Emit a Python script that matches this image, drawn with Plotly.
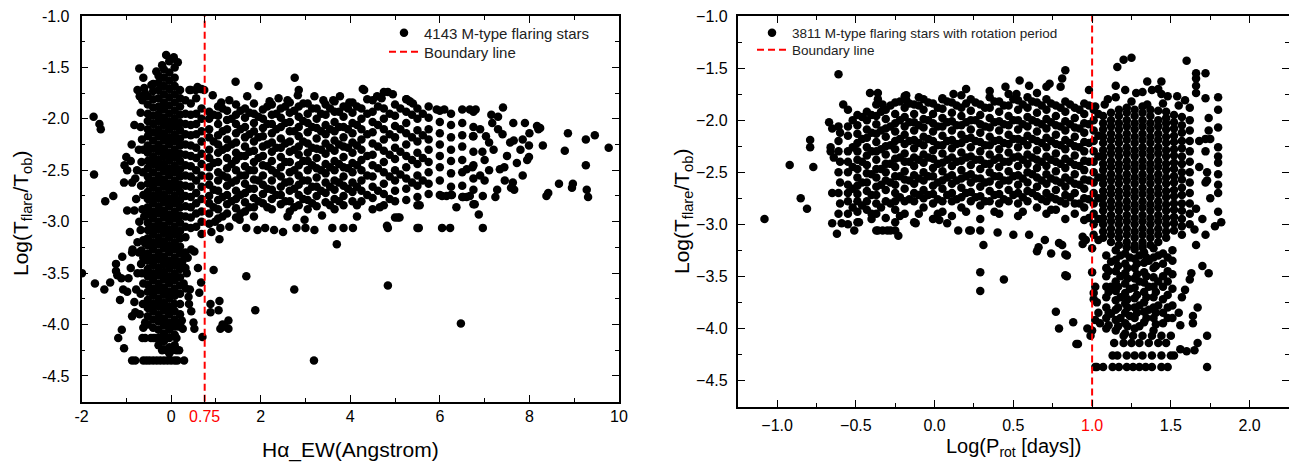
import plotly.graph_objects as go

# ---------------- shared ----------------
Y_RANGE = [-4.75, -1.0]
Y_TICKS = [-4.5, -4.0, -3.5, -3.0, -2.5, -2.0, -1.5, -1.0]
Y_MINOR = [-4.25, -3.75, -3.25, -2.75, -2.25, -1.75, -1.25]

# ---------------- left panel : H-alpha EW ----------------
L_X_RANGE = [-2, 10]
L_BOUNDARY = 0.75
L_X_TICKS = [-2, 0, 0.75, 2, 4, 6, 8, 10]
L_X_TICKTEXT = ["-2", "0", "<span style='color:#ff0000'>0.75</span>", "2", "4", "6", "8", "10"]
L_X_MINOR = [-1, 1, 3, 5, 7, 9]
L_Y_TICKTEXT = ["-4.5", "-4.0", "-3.5", "-3.0", "-2.5", "-2.0", "-1.5", "-1.0"]

left_core = {
    -0.52: [-1.78, -1.86, -1.95, -2.02, -2.1, -2.17, -2.26, -2.33, -2.41, -2.48, -2.56, -2.63, -2.71, -2.78, -2.86, -2.93, -3.01, -3.08, -3.16, -3.23, -3.31, -3.38, -3.46, -3.53, -3.61, -3.68, -3.76, -3.84, -3.92, -4.0],
    -0.4: [-1.66, -1.73, -1.81, -1.89, -1.97, -2.05, -2.13, -2.21, -2.29, -2.37, -2.44, -2.52, -2.6, -2.67, -2.75, -2.82, -2.9, -2.97, -3.05, -3.12, -3.2, -3.27, -3.35, -3.42, -3.5, -3.57, -3.65, -3.72, -3.8, -3.87, -3.95, -4.03, -4.13],
    -0.28: [-1.58, -1.65, -1.72, -1.8, -1.88, -1.95, -2.02, -2.1, -2.17, -2.25, -2.32, -2.4, -2.47, -2.55, -2.62, -2.7, -2.77, -2.85, -2.92, -3.0, -3.07, -3.15, -3.22, -3.3, -3.37, -3.45, -3.52, -3.6, -3.67, -3.75, -3.82, -3.9, -3.97, -4.05, -4.13, -4.2],
    -0.16: [-1.52, -1.6, -1.68, -1.76, -1.84, -1.91, -1.99, -2.06, -2.14, -2.21, -2.29, -2.36, -2.44, -2.51, -2.59, -2.66, -2.74, -2.81, -2.89, -2.96, -3.04, -3.11, -3.19, -3.26, -3.34, -3.41, -3.49, -3.56, -3.64, -3.71, -3.79, -3.86, -3.94, -4.01, -4.09, -4.16, -4.24],
    -0.04: [-1.44, -1.55, -1.63, -1.71, -1.79, -1.87, -1.95, -2.03, -2.1, -2.18, -2.25, -2.33, -2.4, -2.48, -2.55, -2.63, -2.7, -2.78, -2.85, -2.93, -3.0, -3.08, -3.15, -3.23, -3.3, -3.38, -3.45, -3.53, -3.6, -3.68, -3.75, -3.83, -3.9, -3.98, -4.05, -4.13, -4.22, -4.28],
    0.08: [-1.5, -1.6, -1.68, -1.76, -1.84, -1.92, -2.0, -2.07, -2.15, -2.22, -2.3, -2.37, -2.45, -2.52, -2.6, -2.67, -2.75, -2.82, -2.9, -2.97, -3.05, -3.12, -3.2, -3.27, -3.35, -3.42, -3.5, -3.57, -3.65, -3.72, -3.8, -3.87, -3.95, -4.02, -4.1, -4.2],
    0.2: [-1.72, -1.8, -1.88, -1.96, -2.04, -2.11, -2.19, -2.26, -2.34, -2.41, -2.49, -2.56, -2.64, -2.71, -2.79, -2.86, -2.94, -3.01, -3.09, -3.16, -3.24, -3.31, -3.39, -3.46, -3.54, -3.62, -3.7, -3.8, -3.9, -4.0],
    0.32: [-1.82, -1.95, -2.05, -2.15, -2.25, -2.35, -2.45, -2.55, -2.65, -2.75, -2.85, -2.95, -3.05, -3.15, -3.3, -3.45],
    0.44: [-1.72, -1.85, -1.96, -2.06, -2.16, -2.26, -2.36, -2.46, -2.56, -2.66, -2.76, -2.86, -2.96, -3.06],
    0.56: [-1.8, -1.95, -2.05, -2.15, -2.28, -2.38, -2.5, -2.6, -2.72, -2.82, -2.92, -3.05],
    0.68: [-1.71, -1.9, -2.0, -2.12, -2.22, -2.34, -2.44, -2.55, -2.66, -2.78, -2.9, -3.0, -3.12],
}

left_band = {
    0.85: [-1.93, -2.0, -2.1, -2.18, -2.3, -2.38, -2.47, -2.56, -2.64, -2.75, -2.82, -2.92, -3.02],
    1.05: [-1.88, -1.97, -2.05, -2.16, -2.25, -2.33, -2.42, -2.52, -2.6, -2.7, -2.79, -2.88, -2.97],
    1.25: [-1.92, -2.01, -2.1, -2.2, -2.28, -2.38, -2.48, -2.57, -2.65, -2.74, -2.83, -2.92],
    1.45: [-1.86, -1.96, -2.05, -2.14, -2.23, -2.33, -2.4, -2.5, -2.6, -2.7, -2.78, -2.87, -2.96],
    1.65: [-1.9, -1.99, -2.08, -2.18, -2.27, -2.36, -2.46, -2.55, -2.63, -2.72, -2.81, -2.9],
    1.85: [-1.85, -1.95, -2.04, -2.12, -2.22, -2.31, -2.42, -2.5, -2.59, -2.68, -2.77, -2.86, -2.95],
    2.05: [-1.91, -2.0, -2.09, -2.17, -2.27, -2.36, -2.45, -2.55, -2.64, -2.73, -2.82],
    2.25: [-1.86, -1.96, -2.05, -2.14, -2.23, -2.32, -2.41, -2.5, -2.6, -2.69, -2.78, -2.88],
    2.45: [-1.9, -1.99, -2.08, -2.19, -2.28, -2.37, -2.47, -2.56, -2.66, -2.74, -2.83],
    2.65: [-1.84, -1.94, -2.03, -2.12, -2.22, -2.32, -2.42, -2.52, -2.61, -2.7, -2.8, -2.9],
    2.85: [-1.88, -1.98, -2.08, -2.17, -2.27, -2.35, -2.45, -2.55, -2.64, -2.74, -2.84],
    3.05: [-1.85, -1.95, -2.04, -2.13, -2.24, -2.33, -2.41, -2.5, -2.6, -2.7, -2.79, -2.88],
    3.25: [-1.9, -2.0, -2.09, -2.19, -2.29, -2.38, -2.48, -2.57, -2.66, -2.75, -2.85],
    3.45: [-1.86, -1.96, -2.06, -2.15, -2.24, -2.34, -2.44, -2.53, -2.62, -2.72, -2.81],
    3.65: [-1.83, -1.93, -2.03, -2.12, -2.21, -2.31, -2.41, -2.5, -2.6, -2.69, -2.78, -2.88],
    3.85: [-1.88, -1.98, -2.08, -2.18, -2.27, -2.37, -2.47, -2.56, -2.65, -2.75, -2.84],
    4.05: [-1.84, -1.94, -2.04, -2.14, -2.23, -2.33, -2.43, -2.52, -2.62, -2.71, -2.8],
    4.25: [-1.9, -2.0, -2.1, -2.2, -2.3, -2.4, -2.5, -2.6, -2.7, -2.8],
    4.5: [-1.82, -1.93, -2.03, -2.13, -2.24, -2.35, -2.45, -2.56, -2.66, -2.77, -2.88],
    4.75: [-1.74, -1.9, -2.0, -2.1, -2.2, -2.31, -2.42, -2.52, -2.63, -2.73, -2.84],
    5.0: [-1.86, -1.97, -2.07, -2.18, -2.28, -2.39, -2.5, -2.6, -2.7, -2.8, -2.96],
    5.25: [-1.81, -1.93, -2.04, -2.14, -2.25, -2.36, -2.47, -2.58, -2.68, -2.79],
    5.5: [-1.9, -2.0, -2.11, -2.22, -2.33, -2.44, -2.55, -2.65, -2.76, -2.84],
    5.75: [-1.88, -1.99, -2.1, -2.2, -2.3, -2.42, -2.52, -2.63, -2.73],
    6.0: [-1.92, -2.03, -2.14, -2.25, -2.36, -2.47, -2.6, -2.74],
    6.25: [-1.95, -2.06, -2.18, -2.3, -2.41, -2.53, -2.66, -2.74],
    6.5: [-1.91, -2.04, -2.16, -2.27, -2.4, -2.52, -2.65, -2.76],
    6.75: [-1.93, -2.08, -2.17, -2.32, -2.45, -2.58, -2.69, -2.83],
}

left_band_fill = {
    0.95: [-1.96, -2.22, -2.43, -2.69, -2.86],
    1.15: [-1.9, -2.12, -2.3, -2.55, -2.76, -2.95],
    1.35: [-2.0, -2.25, -2.44, -2.62, -2.8],
    1.55: [-1.92, -2.1, -2.36, -2.55, -2.74, -2.92],
    1.75: [-1.94, -2.15, -2.32, -2.5, -2.68, -2.86],
    1.95: [-1.98, -2.18, -2.38, -2.6, -2.8],
    2.15: [-1.88, -2.05, -2.25, -2.46, -2.68, -2.86],
    2.35: [-1.95, -2.1, -2.28, -2.53, -2.74],
    2.55: [-1.88, -2.04, -2.24, -2.42, -2.62, -2.8],
    2.75: [-1.92, -2.12, -2.3, -2.5, -2.68, -2.86],
    2.95: [-1.85, -2.02, -2.22, -2.41, -2.6, -2.78],
    3.15: [-1.9, -2.08, -2.28, -2.45, -2.66, -2.82],
    3.35: [-1.95, -2.12, -2.3, -2.5, -2.7],
    3.55: [-1.9, -2.1, -2.28, -2.47, -2.66, -2.84],
    3.75: [-1.93, -2.08, -2.25, -2.44, -2.62, -2.8],
    3.95: [-1.9, -2.1, -2.28, -2.48, -2.68],
    4.15: [-1.88, -2.06, -2.26, -2.45, -2.66, -2.84],
    4.38: [-1.95, -2.15, -2.36, -2.55, -2.74],
    4.62: [-1.88, -2.06, -2.27, -2.48, -2.7],
    4.88: [-1.95, -2.15, -2.35, -2.56, -2.78],
    5.12: [-1.9, -2.1, -2.32, -2.54],
    5.38: [-1.96, -2.18, -2.4, -2.62],
    5.62: [-1.95, -2.16, -2.38, -2.6],
}

left_scatter = [
    (-0.11, -1.38), (0.0, -1.42), (0.06, -1.4), (-0.33, -1.54), (-0.71, -1.51), (-0.44, -1.67), (-0.6, -1.7), (0.15, -1.45), (-0.2, -1.48),
    (-0.58, -1.75), (-0.62, -1.6),
    (-1.73, -1.98), (-1.6, -2.05), (-1.57, -2.1), (-1.72, -2.54), (-1.47, -2.8), (-1.29, -2.75), (-1.0, -2.37), (-1.04, -2.45),
    (-0.9, -2.41), (-0.98, -2.5), (-0.87, -2.62), (-1.05, -2.62), (-0.8, -2.58), (-0.78, -2.78), (-0.98, -2.89), (-0.82, -2.89),
    (-0.71, -3.0), (-0.68, -3.08), (-0.82, -2.06), (-0.68, -2.08), (-0.68, -1.94), (-0.64, -1.82), (-0.75, -1.72), (-0.7, -1.78),
    (-1.99, -3.5), (-1.7, -3.6), (-1.49, -3.66), (-1.36, -3.59), (-1.23, -3.41), (-1.23, -3.48), (-1.2, -3.52), (-1.09, -3.34),
    (-1.11, -3.55), (-1.07, -3.66), (-1.14, -3.76), (-0.98, -3.68), (-0.87, -3.3), (-0.86, -3.27), (-0.67, -3.41), (-0.78, -3.66),
    (-0.82, -3.78), (-0.87, -3.92), (-0.8, -3.88), (-0.7, -3.9), (-1.1, -4.05), (-1.18, -4.13), (-1.05, -4.23), (-0.64, -4.13),
    (-0.58, -4.13), (-0.62, -4.03), (-0.58, -3.98), (-0.58, -3.21), (-0.62, -3.18),
    (-0.65, -2.2), (-0.62, -2.3), (-0.66, -2.42), (-0.63, -2.52), (-0.67, -2.65), (-0.62, -2.74), (-0.64, -2.88), (-0.6, -2.95),
    (-0.66, -3.28), (-0.62, -3.35), (-0.65, -3.5), (-0.62, -3.6), (-0.68, -3.7), (-0.63, -3.8), (-0.75, -3.2), (-0.75, -3.5),
    (-0.92, -3.1), (-0.9, -3.45), (-0.95, -3.55), (-0.72, -2.3), (-0.76, -2.5), (-0.88, -2.25), (-0.72, -3.3),
    (-0.87, -4.35), (-0.8, -4.35), (-0.62, -4.35), (-0.55, -4.35), (-0.48, -4.35), (-0.4, -4.35), (-0.32, -4.35), (-0.24, -4.35),
    (-0.16, -4.35), (-0.08, -4.35), (0.0, -4.35), (0.08, -4.35), (0.14, -4.35), (0.29, -4.35),
    (-0.45, -4.13), (-0.36, -4.13), (0.12, -4.13), (-0.1, -4.25), (0.02, -4.25), (0.12, -4.25), (0.18, -4.25), (-0.2, -4.25),
    (0.25, -3.39), (0.3, -3.33), (0.37, -3.35), (0.45, -3.27), (0.52, -3.29), (0.28, -3.6), (0.33, -3.65), (0.42, -3.66),
    (0.39, -3.73), (0.45, -3.87), (0.4, -3.8), (0.24, -3.96), (0.18, -4.02), (0.26, -4.04), (0.5, -3.98), (0.52, -4.04),
    (0.63, -3.69), (0.67, -3.59), (0.7, -4.12), (0.6, -3.45), (0.35, -3.5),
    (1.53, -2.98), (1.68, -3.06), (1.93, -3.08), (2.1, -3.06), (2.3, -3.08), (2.5, -3.1), (2.6, -2.95), (2.98, -2.98), (3.2, -3.08),
    (3.37, -2.94), (3.6, -3.06), (4.06, -3.06), (4.15, -2.95), (4.82, -3.04), (5.06, -2.96), (5.5, -3.06), (5.55, -2.84),
    (1.08, -3.17), (1.1, -3.06), (0.98, -3.0), (1.3, -3.05), (0.9, -3.1), (3.85, -3.06), (4.66, -2.86), (5.1, -2.96),
    (6.23, -3.06), (6.05, -3.06), (5.53, -3.06), (4.84, -3.06), (6.96, -3.06), (6.37, -2.86), (6.78, -2.83), (6.87, -2.93),
    (2.8, -3.06), (3.0, -3.06),
    (0.95, -3.47), (1.08, -3.77), (1.06, -3.86), (1.1, -4.04), (1.15, -4.0), (1.28, -3.96), (1.28, -4.04), (1.2, -4.02),
    (1.68, -3.53), (1.88, -3.86), (2.75, -3.66), (3.19, -4.35), (3.7, -3.22), (4.84, -3.62), (6.47, -3.99), (0.88, -3.8), (0.88, -3.88),
    (1.44, -1.64), (1.95, -1.68), (2.76, -1.6), (1.7, -1.78), (2.85, -1.72), (2.83, -1.77), (3.2, -1.78), (4.28, -1.71),
    (4.6, -1.78), (4.7, -1.8), (0.93, -1.77), (1.12, -1.84), (0.59, -1.69), (0.41, -1.72), (0.74, -1.72), (2.2, -1.83),
    (2.4, -1.8), (3.77, -1.78), (3.62, -1.82), (4.38, -1.81), (5.33, -1.83), (5.4, -1.85), (4.31, -1.72), (4.84, -1.74),
    (4.95, -1.76), (5.26, -1.81), (5.93, -1.91), (6.1, -1.91), (6.67, -1.91), (6.8, -1.91), (7.41, -1.89), (3.98, -1.84),
    (3.4, -1.82), (2.6, -1.82), (1.3, -1.82), (0.65, -1.71), (0.55, -1.72),
    (7.3, -1.98), (7.17, -2.04), (7.64, -2.04), (7.9, -2.04), (8.17, -2.07), (8.2, -2.1), (8.0, -2.14), (8.3, -2.26),
    (8.86, -2.14), (9.26, -2.2), (9.46, -2.16), (9.77, -2.28), (8.79, -2.31), (9.26, -2.45), (8.42, -2.72), (8.38, -2.75),
    (8.66, -2.63), (8.97, -2.63), (8.95, -2.67), (9.28, -2.69), (9.31, -2.76), (7.59, -2.67), (7.66, -2.69), (7.63, -2.62),
    (7.28, -2.69), (7.24, -2.76), (6.96, -2.75), (6.52, -2.76), (6.6, -2.76), (6.67, -2.75), (6.27, -2.74), (6.15, -2.75),
    (6.05, -2.75), (6.6, -2.49), (6.73, -2.47), (7.0, -2.4), (7.34, -2.49), (7.44, -2.47), (7.72, -2.43), (7.95, -2.4),
    (7.99, -2.37), (7.57, -2.23), (7.65, -2.21), (7.99, -2.26), (7.1, -2.23), (7.03, -2.17), (6.74, -2.17), (8.24, -2.09),
    (7.0, -2.6), (7.2, -2.3), (7.4, -2.15), (6.9, -2.1), (7.1, -2.5), (7.5, -2.36), (7.8, -2.3), (7.3, -2.1), (6.95, -2.32),
    (7.15, -1.96), (6.9, -2.55), (7.45, -2.6), (7.85, -2.55), (7.85, -2.2),
]

# ---------------- right panel : rotation period ----------------
R_X_RANGE = [-1.25, 2.25]
R_BOUNDARY = 1.0
R_X_TICKS = [-1.0, -0.5, 0.0, 0.5, 1.0, 1.5, 2.0]
R_X_TICKTEXT = ["\u22121.0", "\u22120.5", "0.0", "0.5", "<span style='color:#ff0000'>1.0</span>", "1.5", "2.0"]
R_X_MINOR = [-0.75, -0.25, 0.25, 0.75, 1.25, 1.75]
R_Y_TICKTEXT = ["\u22124.5", "\u22124.0", "\u22123.5", "\u22123.0", "\u22122.5", "\u22122.0", "\u22121.5", "\u22121.0"]

right_band = {
    -0.55: [-2.06, -2.15, -2.3, -2.4, -2.5, -2.62, -2.7, -2.78, -2.9, -3.0],
    -0.49: [-1.95, -2.05, -2.13, -2.22, -2.3, -2.38, -2.47, -2.55, -2.63, -2.71, -2.78, -2.88, -2.98],
    -0.43: [-1.92, -2.0, -2.09, -2.17, -2.26, -2.34, -2.43, -2.51, -2.6, -2.68, -2.78, -2.86],
    -0.37: [-1.85, -1.96, -2.04, -2.13, -2.21, -2.3, -2.38, -2.47, -2.55, -2.64, -2.72, -2.8, -2.9, -3.06],
    -0.31: [-1.9, -1.99, -2.08, -2.16, -2.25, -2.33, -2.42, -2.5, -2.58, -2.67, -2.78, -2.94],
    -0.25: [-1.83, -1.94, -2.03, -2.11, -2.2, -2.28, -2.37, -2.45, -2.54, -2.62, -2.7, -2.78, -2.86, -3.06],
    -0.19: [-1.77, -1.88, -1.97, -2.06, -2.14, -2.23, -2.32, -2.4, -2.49, -2.57, -2.66, -2.78, -2.9],
    -0.13: [-1.85, -1.94, -2.02, -2.1, -2.19, -2.27, -2.36, -2.44, -2.53, -2.61, -2.7, -2.78, -2.98],
    -0.07: [-1.8, -1.9, -1.99, -2.07, -2.16, -2.24, -2.33, -2.41, -2.5, -2.58, -2.67, -2.75, -2.84],
    -0.01: [-1.84, -1.94, -2.03, -2.11, -2.2, -2.29, -2.37, -2.46, -2.54, -2.63, -2.71, -2.8, -2.95],
    0.05: [-1.79, -1.89, -1.98, -2.06, -2.15, -2.24, -2.32, -2.41, -2.49, -2.58, -2.66, -2.78, -2.88],
    0.11: [-1.83, -1.93, -2.01, -2.1, -2.19, -2.27, -2.36, -2.44, -2.53, -2.61, -2.7, -2.78, -2.92],
    0.17: [-1.76, -1.88, -1.96, -2.05, -2.14, -2.22, -2.31, -2.39, -2.48, -2.56, -2.65, -2.74, -2.84],
    0.23: [-1.8, -1.91, -2.0, -2.09, -2.17, -2.26, -2.35, -2.43, -2.52, -2.6, -2.69, -2.78, -3.06],
    0.29: [-1.85, -1.95, -2.04, -2.12, -2.21, -2.3, -2.38, -2.47, -2.56, -2.64, -2.73, -2.82, -2.95],
    0.35: [-1.78, -1.88, -1.98, -2.07, -2.16, -2.24, -2.33, -2.42, -2.5, -2.59, -2.68, -2.78],
    0.41: [-1.82, -1.92, -2.01, -2.1, -2.19, -2.28, -2.36, -2.45, -2.54, -2.62, -2.71, -2.8, -2.9],
    0.47: [-1.75, -1.86, -1.96, -2.05, -2.14, -2.23, -2.31, -2.4, -2.49, -2.58, -2.67, -2.78],
    0.53: [-1.81, -1.9, -2.0, -2.09, -2.18, -2.26, -2.35, -2.44, -2.53, -2.62, -2.7, -2.8, -2.92],
    0.59: [-1.78, -1.88, -1.97, -2.06, -2.15, -2.24, -2.33, -2.42, -2.5, -2.6, -2.68, -2.78],
    0.65: [-1.83, -1.93, -2.02, -2.11, -2.2, -2.29, -2.38, -2.46, -2.55, -2.64, -2.73, -2.84],
    0.71: [-1.8, -1.9, -1.99, -2.08, -2.17, -2.26, -2.35, -2.44, -2.52, -2.61, -2.7, -2.78, -2.9],
    0.77: [-1.86, -1.96, -2.05, -2.14, -2.23, -2.32, -2.4, -2.49, -2.58, -2.67, -2.76, -2.86],
    0.83: [-1.82, -1.92, -2.01, -2.1, -2.19, -2.28, -2.37, -2.46, -2.55, -2.64, -2.72, -2.8, -2.95],
    0.89: [-1.88, -1.98, -2.07, -2.16, -2.25, -2.34, -2.43, -2.52, -2.61, -2.7, -2.8, -2.9],
    0.95: [-1.84, -1.94, -2.03, -2.12, -2.21, -2.3, -2.39, -2.48, -2.57, -2.66, -2.75, -2.84, -2.96],
    1.01: [-1.9, -2.0, -2.1, -2.2, -2.3, -2.4, -2.5, -2.6, -2.7, -2.8, -2.9, -3.0, -3.1],
}

right_band_fill = {
    -0.52: [-2.0, -2.26, -2.45, -2.66, -2.84],
    -0.46: [-1.97, -2.18, -2.4, -2.6, -2.82],
    -0.4: [-1.95, -2.12, -2.3, -2.52, -2.72, -2.9],
    -0.34: [-1.92, -2.1, -2.28, -2.47, -2.62, -2.84],
    -0.28: [-1.86, -2.06, -2.24, -2.42, -2.6, -2.8],
    -0.22: [-1.82, -2.0, -2.18, -2.36, -2.54, -2.74, -2.92],
    -0.16: [-1.84, -2.02, -2.2, -2.4, -2.58, -2.76],
    -0.1: [-1.86, -2.05, -2.22, -2.38, -2.56, -2.72, -2.9],
    -0.04: [-1.83, -2.0, -2.18, -2.36, -2.54, -2.72],
    0.02: [-1.88, -2.06, -2.24, -2.42, -2.6, -2.76, -2.9],
    0.08: [-1.82, -2.02, -2.2, -2.38, -2.55, -2.72],
    0.14: [-1.86, -2.05, -2.23, -2.4, -2.58, -2.76],
    0.2: [-1.84, -2.02, -2.18, -2.36, -2.54, -2.7, -2.88],
    0.26: [-1.83, -2.0, -2.2, -2.38, -2.56, -2.74],
    0.32: [-1.88, -2.06, -2.24, -2.42, -2.6, -2.78],
    0.38: [-1.82, -2.02, -2.2, -2.38, -2.54, -2.72, -2.88],
    0.44: [-1.86, -2.04, -2.22, -2.4, -2.58, -2.76],
    0.5: [-1.8, -2.0, -2.18, -2.36, -2.54, -2.72],
    0.56: [-1.85, -2.04, -2.2, -2.38, -2.56, -2.74, -2.88],
    0.62: [-1.82, -2.0, -2.18, -2.36, -2.52, -2.7],
    0.68: [-1.86, -2.04, -2.22, -2.4, -2.58, -2.76],
    0.74: [-1.84, -2.02, -2.2, -2.38, -2.56, -2.74, -2.86],
    0.8: [-1.88, -2.06, -2.24, -2.42, -2.6, -2.78],
    0.86: [-1.85, -2.04, -2.22, -2.4, -2.58, -2.74],
    0.92: [-1.9, -2.08, -2.26, -2.44, -2.62, -2.8],
    0.98: [-1.86, -2.04, -2.22, -2.4, -2.58, -2.76, -2.94],
    1.04: [-1.94, -2.15, -2.35, -2.55, -2.75, -2.95, -3.15],
}

right_block = {
    1.07: [-1.96, -2.03, -2.09, -2.16, -2.22, -2.29, -2.35, -2.42, -2.48, -2.55, -2.61, -2.68, -2.74, -2.81, -2.87, -2.94, -3.0, -3.07, -3.13],
    1.12: [-1.93, -2.0, -2.06, -2.13, -2.19, -2.26, -2.32, -2.39, -2.45, -2.52, -2.58, -2.65, -2.71, -2.78, -2.84, -2.91, -2.97, -3.04, -3.1, -3.17],
    1.17: [-1.9, -1.96, -2.03, -2.09, -2.16, -2.22, -2.29, -2.35, -2.42, -2.48, -2.55, -2.61, -2.68, -2.74, -2.81, -2.87, -2.94, -3.0, -3.07, -3.13, -3.2],
    1.22: [-1.88, -1.93, -2.0, -2.06, -2.13, -2.19, -2.26, -2.32, -2.39, -2.45, -2.52, -2.58, -2.65, -2.71, -2.78, -2.84, -2.91, -2.97, -3.04, -3.1, -3.17, -3.22],
    1.27: [-1.9, -1.96, -2.03, -2.09, -2.16, -2.22, -2.29, -2.35, -2.42, -2.48, -2.55, -2.61, -2.68, -2.74, -2.81, -2.87, -2.94, -3.0, -3.07, -3.13, -3.2],
    1.32: [-1.87, -1.93, -2.0, -2.06, -2.13, -2.19, -2.26, -2.32, -2.39, -2.45, -2.52, -2.58, -2.65, -2.71, -2.78, -2.84, -2.91, -2.97, -3.04, -3.1, -3.17, -3.22],
    1.37: [-1.9, -1.96, -2.03, -2.09, -2.16, -2.22, -2.29, -2.35, -2.42, -2.48, -2.55, -2.61, -2.68, -2.74, -2.81, -2.87, -2.94, -3.0, -3.07, -3.13, -3.2],
    1.42: [-1.91, -2.0, -2.06, -2.13, -2.19, -2.26, -2.32, -2.39, -2.45, -2.52, -2.58, -2.65, -2.71, -2.78, -2.84, -2.91, -2.97, -3.04, -3.1, -3.17],
    1.47: [-1.92, -1.98, -2.03, -2.09, -2.16, -2.22, -2.29, -2.35, -2.42, -2.48, -2.55, -2.61, -2.68, -2.74, -2.81, -2.87, -2.94, -3.0, -3.07, -3.13],
    1.52: [-1.95, -2.02, -2.08, -2.15, -2.21, -2.28, -2.34, -2.41, -2.47, -2.54, -2.6, -2.67, -2.73, -2.8, -2.86, -2.93, -2.99, -3.06],
    1.57: [-1.97, -2.05, -2.12, -2.2, -2.27, -2.35, -2.42, -2.5, -2.57, -2.65, -2.72, -2.8, -2.87, -2.95, -3.02, -3.1],
    1.62: [-2.0, -2.1, -2.2, -2.3, -2.4, -2.5, -2.6, -2.7, -2.8, -2.9, -3.0],
}

right_block_low = {
    1.09: [-3.3, -3.42, -3.5, -3.6, -3.7, -3.8, -3.9, -4.0],
    1.105: [-3.45, -3.65, -3.85, -3.97],
    1.12: [-3.36, -3.6, -3.86],
    1.15: [-3.25, -3.34, -3.45, -3.55, -3.64, -3.73, -3.82, -3.92, -4.02],
    1.165: [-3.4, -3.6, -3.8, -3.98],
    1.18: [-3.3, -3.5, -3.7, -3.9],
    1.21: [-3.28, -3.38, -3.47, -3.57, -3.66, -3.76, -3.85, -3.95, -4.05],
    1.225: [-3.42, -3.52, -3.72, -3.8, -3.98],
    1.24: [-3.32, -3.62, -3.88],
    1.27: [-3.24, -3.33, -3.42, -3.52, -3.61, -3.71, -3.8, -3.9, -4.0],
    1.285: [-3.38, -3.48, -3.68, -3.85],
    1.3: [-3.3, -3.55, -3.78, -3.98],
    1.33: [-3.27, -3.37, -3.46, -3.56, -3.65, -3.75, -3.84, -3.94],
    1.345: [-3.32, -3.5, -3.7, -3.9],
    1.36: [-3.35, -3.6, -3.82],
    1.39: [-3.23, -3.32, -3.42, -3.51, -3.6, -3.7, -3.8, -3.9, -4.02],
    1.405: [-3.4, -3.65, -3.85, -3.96],
    1.42: [-3.3, -3.55, -3.78],
    1.45: [-3.28, -3.38, -3.5, -3.6, -3.72, -3.85, -3.95],
    1.48: [-3.32, -3.45, -3.55, -3.68, -3.8, -3.9],
    1.51: [-3.25, -3.35, -3.48, -3.62, -3.78, -3.9],
}

right_rows = {
    -4.07: [1.2, 1.26, 1.32, 1.38, 1.44, 1.5, 1.73],
    -4.14: [1.14, 1.2, 1.25, 1.3, 1.36, 1.42, 1.47, 1.67],
    -4.26: [1.13, 1.16, 1.22, 1.27, 1.32, 1.38, 1.44, 1.5, 1.52],
    -4.37: [1.02, 1.07, 1.13, 1.17, 1.22, 1.26, 1.3, 1.34, 1.38, 1.44, 1.48, 1.73],
}

right_scatter = [
    (1.65, -4.21), (1.6, -4.22), (1.56, -4.2),
    (1.8, -2.41), (1.8, -2.35), (1.8, -2.52), (1.8, -2.7), (1.8, -2.88), (1.82, -2.98), (1.72, -2.3), (1.72, -2.6),
    (1.75, -2.75), (1.72, -3.1), (1.66, -3.2), (1.74, -3.47), (1.7, -3.4), (1.63, -3.47), (1.62, -3.53), (1.59, -3.63),
    (1.57, -3.7), (1.67, -3.8), (1.64, -3.88), (1.55, -3.85), (1.64, -3.95), (1.56, -3.97), (1.68, -2.2), (1.68, -2.45),
    (1.66, -2.85), (1.7, -2.95), (1.78, -3.02), (1.65, -3.05), (1.75, -2.18),
    (1.16, -1.49), (1.2, -1.42), (1.25, -1.4), (1.6, -1.43), (1.66, -1.55), (1.66, -1.6), (1.72, -1.55), (1.35, -1.63),
    (1.44, -1.63), (1.15, -1.67), (1.21, -1.71), (1.28, -1.74), (1.32, -1.73), (1.38, -1.71), (1.42, -1.7), (1.44, -1.75),
    (1.48, -1.77), (1.54, -1.77), (1.59, -1.81), (1.66, -1.67), (1.66, -1.74), (1.72, -1.79), (1.8, -1.78), (1.8, -1.9),
    (1.8, -2.07), (1.8, -2.26), (1.74, -1.98), (1.74, -2.1), (1.72, -2.18), (1.73, -2.5), (1.73, -2.58), (1.8, -2.62),
    (0.98, -1.71), (1.02, -1.87), (0.83, -1.52), (0.81, -1.6), (0.8, -1.68), (0.73, -1.65), (0.54, -1.62), (0.6, -1.67),
    (0.71, -1.68), (0.65, -1.74), (1.1, -1.8), (1.15, -1.78), (1.25, -1.82), (1.35, -1.85), (1.45, -1.84), (1.55, -1.86),
    (1.62, -1.88), (1.08, -1.85),
    (0.31, -3.2), (0.29, -3.46), (0.29, -3.64), (0.44, -3.53), (0.66, -3.22), (0.65, -3.26), (0.74, -3.28), (0.79, -3.18),
    (0.83, -3.29), (0.83, -3.49), (0.77, -3.84), (0.88, -3.94), (0.79, -4.0), (0.91, -4.15), (0.97, -4.0), (0.99, -4.07),
    (0.94, -3.19), (1.0, -3.46), (1.01, -3.66), (1.01, -3.72), (1.02, -3.92), (1.03, -4.37), (0.81, -3.2), (0.84, -3.3),
    (0.84, -3.5), (0.94, -3.12), (0.96, -3.15), (0.9, -4.15), (1.0, -4.02), (1.0, -3.23), (1.04, -3.85), (1.05, -3.95),
    (1.02, -3.6), (1.03, -3.75), (0.5, -3.1), (0.6, -3.1), (0.7, -3.15), (0.4, -3.08), (0.15, -3.06),
    (-1.08, -2.95), (-0.92, -2.43), (-0.85, -2.75), (-0.81, -2.85), (-0.79, -2.19), (-0.79, -2.26), (-0.77, -2.45),
    (-0.61, -1.56), (-0.58, -1.85), (-0.67, -2.02), (-0.65, -2.08), (-0.66, -2.26), (-0.66, -2.3), (-0.64, -2.36),
    (-0.65, -2.7), (-0.65, -2.99), (-0.59, -2.99), (-0.62, -3.09), (-0.61, -2.06), (-0.6, -2.12), (-0.61, -2.2),
    (-0.61, -2.3), (-0.6, -2.4), (-0.61, -2.5), (-0.6, -2.6), (-0.61, -2.7), (-0.6, -2.8), (-0.61, -2.9), (-0.55, -1.9),
    (-0.41, -1.74), (-0.36, -1.74), (-0.36, -1.8), (-0.33, -1.85), (-0.18, -1.81), (-0.18, -1.76), (0.2, -1.7), (0.12, -1.75),
    (0.05, -1.8), (0.35, -1.72), (0.45, -1.68), (0.52, -1.75), (-0.1, -1.78),
    (-0.51, -3.06), (-0.48, -2.98), (-0.36, -3.06), (-0.33, -3.06), (-0.3, -3.06), (-0.28, -3.06), (-0.23, -3.11),
    (-0.25, -2.98), (-0.12, -2.99), (0.03, -2.96), (0.08, -2.99), (0.22, -3.06), (0.29, -3.06), (-0.4, -2.95),
]


def from_columns(cols):
    xs, ys = [], []
    for x, ylist in cols.items():
        xs += [x] * len(ylist)
        ys += ylist
    return xs, ys


def from_rows(rows):
    xs, ys = [], []
    for y, xlist in rows.items():
        xs += xlist
        ys += [y] * len(xlist)
    return xs, ys


def from_pairs(pairs):
    return [p[0] for p in pairs], [p[1] for p in pairs]


def collect(*parts):
    xs, ys = [], []
    for px, py in parts:
        xs += px
        ys += py
    return xs, ys


lx, ly = collect(from_columns(left_core), from_columns(left_band), from_columns(left_band_fill),
                 from_pairs(left_scatter))
rx, ry = collect(from_columns(right_band), from_columns(right_band_fill), from_columns(right_block),
                 from_columns(right_block_low), from_rows(right_rows), from_pairs(right_scatter))

FONT = "Liberation Sans, Arial, sans-serif"
MARKER = dict(color="black", size=8.5, line=dict(width=0))
DASH = dict(color="#ff0000", width=2, dash="7px,4px")

fig = go.Figure()
fig.add_trace(go.Scatter(x=lx, y=ly, mode="markers", marker=MARKER, name="4143 M-type flaring stars",
                         xaxis="x", yaxis="y", legend="legend"))
fig.add_trace(go.Scatter(x=[L_BOUNDARY, L_BOUNDARY], y=Y_RANGE, mode="lines", line=DASH, name="Boundary line",
                         xaxis="x", yaxis="y", legend="legend3"))
fig.add_trace(go.Scatter(x=rx, y=ry, mode="markers", marker=MARKER,
                         name="3811 M-type flaring stars with rotation period",
                         xaxis="x2", yaxis="y2", legend="legend2"))
fig.add_trace(go.Scatter(x=[R_BOUNDARY, R_BOUNDARY], y=Y_RANGE, mode="lines", line=DASH, name="Boundary line",
                         xaxis="x2", yaxis="y2", legend="legend4"))

W, H = 1289, 464


def ax(domain, rng, tickvals, ticktext, minor, fs, standoff, anchor):
    return dict(domain=domain, range=rng, tickmode="array", tickvals=tickvals, ticktext=ticktext,
                ticks="inside", ticklen=7, tickwidth=1.3, tickcolor="black",
                minor=dict(tickvals=minor, ticks="inside", ticklen=4, tickwidth=1.3, tickcolor="black"),
                showline=True, linewidth=1.6, linecolor="black", mirror="allticks",
                showgrid=False, zeroline=False, tickfont=dict(family=FONT, size=fs, color="black"),
                ticklabelstandoff=standoff, anchor=anchor, automargin=False)


def leg(xpx, ypx, fs):
    return dict(x=xpx / W, y=(H - ypx) / H, xanchor="left", yanchor="middle", bgcolor="rgba(0,0,0,0)",
                font=dict(family=FONT, size=fs, color="#222"), tracegroupgap=0, borderwidth=0)


fig.update_layout(
    width=W, height=H, margin=dict(l=0, r=0, t=0, b=0, autoexpand=False),
    paper_bgcolor="white", plot_bgcolor="white",
    font=dict(family=FONT, color="black"),
    xaxis=ax([81.5 / W, 619 / W], L_X_RANGE, L_X_TICKS, L_X_TICKTEXT, L_X_MINOR, 16, -1, "y"),
    yaxis=ax([(H - 401.7) / H, (H - 16) / H], Y_RANGE, Y_TICKS, L_Y_TICKTEXT, Y_MINOR, 16, 7, "x"),
    xaxis2=ax([737.7 / W, 1.0], R_X_RANGE, R_X_TICKS, R_X_TICKTEXT, R_X_MINOR, 16, 3, "y2"),
    yaxis2=ax([(H - 406.5) / H, (H - 16) / H], Y_RANGE, Y_TICKS, R_Y_TICKTEXT, Y_MINOR, 16, 5, "x2"),
    legend=leg(384, 33, 15),
    legend3=leg(384, 52, 15),
    legend2=leg(752, 33, 13.5),
    legend4=leg(752, 50, 13.5),
    showlegend=True,
    annotations=[
        dict(text="Log(T<sub>flare</sub>/T<sub>ob</sub>)", x=22 / W, y=(H - 214) / H, xref="paper", yref="paper",
             textangle=-90, showarrow=False, font=dict(family=FONT, size=21, color="black"),
             xanchor="center", yanchor="middle"),
        dict(text="Log(T<sub>flare</sub>/T<sub>ob</sub>)", x=683 / W, y=(H - 212) / H, xref="paper", yref="paper",
             textangle=-90, showarrow=False, font=dict(family=FONT, size=21, color="black"),
             xanchor="center", yanchor="middle"),
        dict(text="H\u03b1_EW(Angstrom)", x=350 / W, y=(H - 450) / H, xref="paper", yref="paper",
             showarrow=False, font=dict(family=FONT, size=21, color="black"), xanchor="center", yanchor="middle"),
        dict(text="Log(P<sub>rot</sub> [days])", x=1013 / W, y=(H - 447) / H, xref="paper", yref="paper",
             showarrow=False, font=dict(family=FONT, size=20, color="black"), xanchor="center", yanchor="middle"),
    ],
)

fig.write_html("out.html", config={"displayModeBar": False},
               post_script="document.body.style.margin='0px';document.body.style.overflow='hidden';")
